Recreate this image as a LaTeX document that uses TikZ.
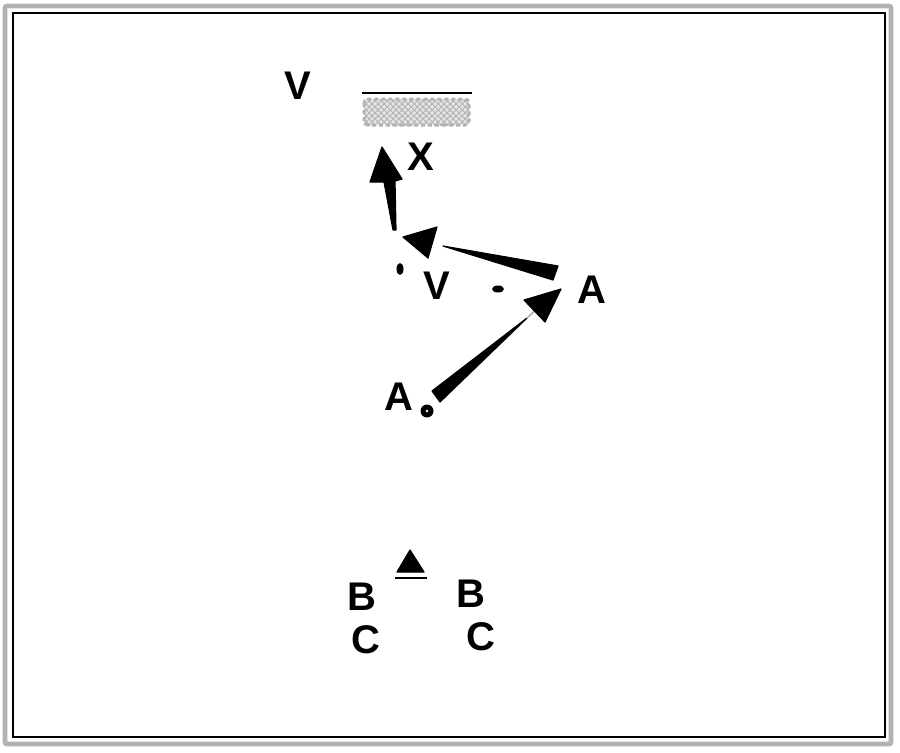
\documentclass[tikz,border=0pt]{standalone}
\usepackage{fontspec}
\setmainfont{Liberation Sans}
\usetikzlibrary{patterns}
\begin{document}
\begin{tikzpicture}[x=0.5pt,y=-0.5pt,
  lbl/.style={font=\fontsize{20}{22}\selectfont\bfseries, inner sep=0pt},
  wedge/.style={fill=black, draw=black, line width=0.6pt, line join=round},
  ink/.style={fill=black}]
\useasboundingbox (0,0) rectangle (900,752);
\fill[white] (0,0) rectangle (900,752);
% frames
\draw[gray!60, line width=2.4pt, rounded corners=1pt] (5,6) rectangle (891,744);
\draw[black, line width=0.6pt] (13,13) rectangle (885,737);
% net-like hatched rectangle
\draw[black, line width=0.6pt] (362,93) -- (472,93);
\fill[gray!20] (364,99) rectangle (469,125);
\path[pattern=crosshatch, pattern color=gray!60] (364,99) rectangle (469,125);
\draw[gray!60, line width=1.5pt, dash pattern=on 2pt off 1.5pt, rounded corners=2pt] (364,99) rectangle (469,125);
% labels
\node[lbl] (v1) at (298,86) {V};
\node[lbl] (x) at (421,157) {X};
\node[lbl] (v2) at (437,286) {V};
\node[lbl] (a1) at (592,290) {A};
\node[lbl] (a2) at (399,397) {A};
\node[lbl] (b1) at (362,597) {B};
\node[lbl] (c1) at (366,640) {C};
\node[lbl] (b2) at (471,594) {B};
\node[lbl] (c2) at (481,637) {C};
% upward arrow
\path[wedge] (382,147) -- (402,179) -- (395,181) -- (396,230) -- (393,230) -- (384,182) -- (370,182) -- cycle;
% left-pointing arrowhead and wedge
\path[wedge] (403,237) -- (437,227) -- (428,258) -- cycle;
\path[wedge] (443,246) -- (558,266) -- (553,280) -- cycle;
% drop and small ellipse
\fill (400,269) ellipse [x radius=3.5, y radius=6];
\fill (498,289) ellipse [x radius=6, y radius=3.5];
% lower wedge and arrowhead
\path[wedge] (432,391) -- (527,318) -- (440,402) -- cycle;
\draw[gray!60, line width=0.8pt] (527,318) -- (538,308);
\path[wedge] (561,289) -- (524,300) -- (545,322) -- cycle;
% ball
\fill (427,411) circle (6.5);
\fill[white] (427,411) circle (1.3);
% filled triangle
\path[wedge] (410,550) -- (424,572) -- (397,572) -- cycle;
\draw[black, line width=0.6pt] (395,578) -- (427,578);
\end{tikzpicture}
\end{document}
